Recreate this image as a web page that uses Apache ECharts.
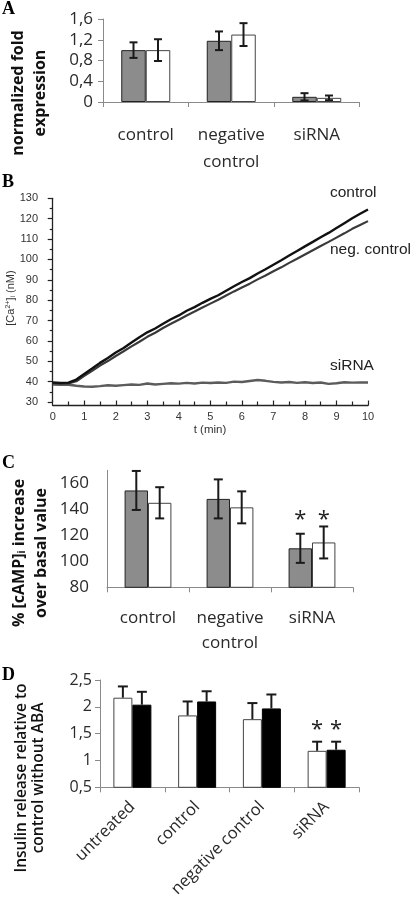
<!DOCTYPE html>
<html><head><meta charset="utf-8">
<script src="https://cdn.jsdelivr.net/npm/echarts@6/dist/echarts.min.js"></script>
<style>html,body{margin:0;padding:0;background:#fff}#c{width:416px;height:902px}</style>
</head><body><div id="c"></div><script>
// ---------- Panel A ----------
const catsA = ['control', 'negative\ncontrol', 'siRNA'];
const aGray = [1.00, 1.18, 0.10];
const aGrayErr = [0.15, 0.18, 0.07];
const aWhite = [1.00, 1.30, 0.08];
const aWhiteErr = [0.21, 0.22, 0.045];
const yTicksA = [0, 0.4, 0.8, 1.2, 1.6];

// ---------- Panel B ----------
const timeB = [0,0.25,0.5,0.75,1,1.25,1.5,1.75,2,2.25,2.5,2.75,3,3.25,3.5,3.75,4,4.25,4.5,4.75,5,5.25,5.5,5.75,6,6.25,6.5,6.75,7,7.25,7.5,7.75,8,8.25,8.5,8.75,9,9.25,9.5,9.75,10];
const ctrlB = [39.6,39.4,39.5,41.0,43.8,46.4,49.2,51.6,54.3,56.5,59.2,61.8,64.2,66.1,68.4,70.6,72.5,74.8,76.6,78.7,80.6,82.4,84.6,86.8,88.9,90.8,93.1,95.2,97.4,99.6,101.9,104.1,106.4,108.6,110.9,113.0,115.4,117.8,120.2,122.4,124.5];
const negB = [39.2,39.0,39.1,40.2,42.8,45.3,47.9,50.1,52.6,54.9,57.3,59.6,62.0,64.0,66.3,68.4,70.4,72.5,74.4,76.4,78.3,80.2,82.3,84.3,86.2,88.1,90.2,92.1,94.2,96.1,98.3,100.3,102.4,104.5,106.6,108.6,110.7,112.8,115.0,116.9,118.8];
const sirnaB = [38.6,38.4,38.5,38.0,37.6,37.5,37.8,38.2,38.0,38.3,38.6,38.4,39.1,38.6,38.9,39.2,39.0,39.4,39.1,39.5,39.3,39.6,39.4,40.0,39.8,40.3,40.8,40.4,39.9,39.6,39.8,39.4,39.7,39.3,39.6,38.9,39.2,39.7,39.5,39.6,39.6];
const xTicksB = [0,1,2,3,4,5,6,7,8,9,10];
const yTicksB = [30,40,50,60,70,80,90,100,110,120,130];
const lineNamesB = ['control', 'neg. control', 'siRNA'];

// ---------- Panel C ----------
const catsC = ['control', 'negative\ncontrol', 'siRNA'];
const cGray = [154.5, 148, 110];
const cGrayErr = [15, 15, 11.2];
const cWhite = [145, 141.5, 114.5];
const cWhiteErr = [12, 12.3, 12.3];
const cStar = [null, null, 135.6];
const yTicksC = [80, 100, 120, 140, 160];
const yMaxC = 170;

// ---------- Panel D ----------
const catsD = ['untreated', 'control', 'negative control', 'siRNA'];
const dWhite = [2.17, 1.84, 1.77, 1.18];
const dWhiteErr = [0.21, 0.26, 0.30, 0.17];
const dBlack = [2.04, 2.10, 1.97, 1.20];
const dBlackErr = [0.24, 0.19, 0.26, 0.15];
const dStar = [null, null, null, 1.66];
const yTicksD = [0.5, 1, 1.5, 2, 2.5];

const FONT = '"Open Sans", "Noto Sans", sans-serif';
const ARIAL = '"Liberation Sans", Arial, sans-serif';
const comma = v => String(+(+v).toFixed(2)).replace('.', ',');

function errSeries(xi, side, barW, capW, vals, errs, oneSided, stars) {
  return {
    type: 'custom', xAxisIndex: xi, yAxisIndex: xi, z: 5, silent: true,
    encode: { x: 0, y: 1 },
    data: vals.map((v, i) => [i, v, errs[i], stars && stars[i] != null ? stars[i] : -999]),
    renderItem(params, api) {
      const i = api.value(0), v = api.value(1), e = api.value(2), s = api.value(3);
      const c = api.coord([i, v]);
      const x = c[0] + side * barW / 2;
      const top = api.coord([i, v + e])[1];
      const bot = oneSided ? c[1] : api.coord([i, v - e])[1];
      const st = { stroke: '#1a1a1a', lineWidth: 2 };
      const ch = [
        { type: 'line', shape: { x1: x, y1: top, x2: x, y2: bot }, style: st },
        { type: 'line', shape: { x1: x - capW, y1: top, x2: x + capW, y2: top }, style: st }
      ];
      if (!oneSided) ch.push({ type: 'line', shape: { x1: x - capW, y1: bot, x2: x + capW, y2: bot }, style: st });
      if (s > -900) {
        const p = api.coord([i, s]);
        ch.push({ type: 'text', style: { text: '*', x: x, y: p[1] + 5, align: 'center', verticalAlign: 'middle', textAlign: 'center', textVerticalAlign: 'middle', fontSize: 22, fontFamily: FONT, fill: '#222' } });
      }
      return { type: 'group', children: ch };
    }
  };
}

function catAxis(gi, cats, fs, lh, margin, rotate) {
  return {
    type: 'category', gridIndex: gi, data: cats,
    axisLine: { show: true, lineStyle: { color: '#8a8a8a', width: 1 } },
    axisTick: { show: true, length: 5, lineStyle: { color: '#8a8a8a' } },
    axisLabel: { fontSize: fs, lineHeight: lh, margin: margin, color: '#2a2a2a', fontFamily: FONT, rotate: rotate || 0, interval: 0 },
    splitLine: { show: false }
  };
}
function valAxis(gi, ticks, max, fs, margin, showTick) {
  return {
    type: 'value', gridIndex: gi, min: ticks[0], max: max, interval: ticks[1] - ticks[0],
    axisLine: { show: true, lineStyle: { color: '#8a8a8a', width: 1 } },
    axisTick: { show: showTick, length: 5, lineStyle: { color: '#8a8a8a' } },
    axisLabel: { fontSize: fs, margin: margin, color: '#2a2a2a', fontFamily: FONT, formatter: comma, showMaxLabel: max === ticks[ticks.length - 1] },
    splitLine: { show: false }
  };
}

const pair = (a, b) => a.map((t, i) => [t, b[i]]);

const option = {
  backgroundColor: '#fff',
  animation: false,
  grid: [
    { left: 103, top: 19, width: 256.5, height: 83 },
    { left: 52.7, top: 198.3, width: 315.3, height: 203.7 },
    { left: 107, top: 470.3, width: 246, height: 117 },
    { left: 100, top: 680, width: 259, height: 107.3 }
  ],
  xAxis: [
    catAxis(0, catsA, 17, 27, 19.5),
    {
      type: 'value', gridIndex: 1, min: xTicksB[0], max: xTicksB[xTicksB.length - 1], interval: xTicksB[1] - xTicksB[0], offset: 3.5,
      axisLine: { show: true, lineStyle: { color: '#222', width: 1.3 } },
      axisTick: { show: true, inside: true, length: 5, lineStyle: { color: '#222', width: 1.2 } },
      minorTick: { show: true, splitNumber: 2, length: 4, lineStyle: { color: '#222', width: 1.2 } },
      axisLabel: { fontSize: 11, margin: 6, color: '#333', fontFamily: ARIAL },
      splitLine: { show: false }, minorSplitLine: { show: false }
    },
    catAxis(2, catsC, 17, 25, 18),
    catAxis(3, catsD, 16.5, 20, 17, 45)
  ],
  yAxis: [
    valAxis(0, yTicksA, yTicksA[yTicksA.length - 1], 17, 10, true),
    {
      type: 'value', gridIndex: 1, min: yTicksB[0], max: yTicksB[yTicksB.length - 1], interval: yTicksB[1] - yTicksB[0], offset: 4.7,
      axisLine: { show: true, lineStyle: { color: '#222', width: 1.3 } },
      axisTick: { show: true, length: 5, lineStyle: { color: '#222', width: 1.2 } },
      minorTick: { show: true, splitNumber: 2, length: 3, lineStyle: { color: '#222', width: 1.2 } },
      axisLabel: { fontSize: 11, margin: 10, color: '#333', fontFamily: ARIAL },
      splitLine: { show: false }, minorSplitLine: { show: false }
    },
    valAxis(2, yTicksC, yMaxC, 17, 18, false),
    valAxis(3, yTicksD, yTicksD[yTicksD.length - 1], 16, 8, true)
  ],
  series: [
    // A
    { type: 'bar', xAxisIndex: 0, yAxisIndex: 0, data: aGray, barWidth: 24.5, barGap: '0%', itemStyle: { color: '#8c8c8c', borderColor: '#222', borderWidth: 1 } },
    { type: 'bar', xAxisIndex: 0, yAxisIndex: 0, data: aWhite, barWidth: 24.5, barGap: '0%', itemStyle: { color: '#fff', borderColor: '#444', borderWidth: 1 } },
    errSeries(0, -1, 24.5, 4, aGray, aGrayErr, false),
    errSeries(0, 1, 24.5, 4, aWhite, aWhiteErr, false),
    // B
    { type: 'line', xAxisIndex: 1, yAxisIndex: 1, name: lineNamesB[2], data: pair(timeB, sirnaB), showSymbol: false, lineStyle: { color: '#5c5c5c', width: 2.4 } },
    { type: 'line', xAxisIndex: 1, yAxisIndex: 1, name: lineNamesB[1], data: pair(timeB, negB), showSymbol: false, lineStyle: { color: '#3a3a3a', width: 2.2 } },
    { type: 'line', xAxisIndex: 1, yAxisIndex: 1, name: lineNamesB[0], data: pair(timeB, ctrlB), showSymbol: false, lineStyle: { color: '#111', width: 2.4 } },
    // C
    { type: 'bar', xAxisIndex: 2, yAxisIndex: 2, data: cGray, barWidth: 23.4, barGap: '0%', itemStyle: { color: '#8c8c8c', borderColor: '#222', borderWidth: 1 } },
    { type: 'bar', xAxisIndex: 2, yAxisIndex: 2, data: cWhite, barWidth: 23.4, barGap: '0%', itemStyle: { color: '#fff', borderColor: '#444', borderWidth: 1 } },
    errSeries(2, -1, 23.4, 4.5, cGray, cGrayErr, false, cStar),
    errSeries(2, 1, 23.4, 4.5, cWhite, cWhiteErr, false, cStar),
    // D
    { type: 'bar', xAxisIndex: 3, yAxisIndex: 3, data: dWhite, barWidth: 19, barGap: '0%', itemStyle: { color: '#fff', borderColor: '#444', borderWidth: 1 } },
    { type: 'bar', xAxisIndex: 3, yAxisIndex: 3, data: dBlack, barWidth: 19, barGap: '0%', itemStyle: { color: '#000', borderColor: '#000', borderWidth: 1 } },
    errSeries(3, -1, 19, 5, dWhite, dWhiteErr, true, dStar),
    errSeries(3, 1, 19, 5, dBlack, dBlackErr, true, dStar)
  ],
  graphic: [
    // panel letters
    { type: 'text', x: 2, y: 9, style: { text: 'A', fontSize: 18, fontWeight: 'bold', fontFamily: '"Liberation Serif", serif', fill: '#000', verticalAlign: 'middle', textVerticalAlign: 'middle' } },
    { type: 'text', x: 2, y: 182.5, style: { text: 'B', fontSize: 18, fontWeight: 'bold', fontFamily: '"Liberation Serif", serif', fill: '#000', verticalAlign: 'middle', textVerticalAlign: 'middle' } },
    { type: 'text', x: 2, y: 463, style: { text: 'C', fontSize: 18, fontWeight: 'bold', fontFamily: '"Liberation Serif", serif', fill: '#000', verticalAlign: 'middle', textVerticalAlign: 'middle' } },
    { type: 'text', x: 2, y: 675, style: { text: 'D', fontSize: 18, fontWeight: 'bold', fontFamily: '"Liberation Serif", serif', fill: '#000', verticalAlign: 'middle', textVerticalAlign: 'middle' } },
    // A y title
    { type: 'text', x: 29, y: 93, rotation: Math.PI / 2, style: { text: 'normalized fold\nexpression', fontSize: 16, lineHeight: 22, fontWeight: 'bold', fontFamily: FONT, fill: '#111', align: 'center', verticalAlign: 'middle', textAlign: 'center', textVerticalAlign: 'middle' } },
    // B y title
    { type: 'text', x: 11, y: 298, rotation: Math.PI / 2, style: { text: '[Ca{sup|2+}]{sub|i} (nM)', fontSize: 11, fontFamily: ARIAL, fill: '#333', align: 'center', verticalAlign: 'middle', textAlign: 'center', textVerticalAlign: 'middle',
      rich: { sup: { fontSize: 7, fontFamily: ARIAL, fill: '#333', verticalAlign: 'top', padding: [0, 0, 5, 0] }, sub: { fontSize: 7, fontFamily: ARIAL, fill: '#333', padding: [5, 0, 0, 0] } } } },
    // B x title
    { type: 'text', x: 210, y: 430, style: { text: 't (min)', fontSize: 11.5, fontFamily: ARIAL, fill: '#333', align: 'center', verticalAlign: 'middle', textAlign: 'center', textVerticalAlign: 'middle' } },
    // B line labels
    { type: 'text', x: 330, y: 192.7, style: { text: lineNamesB[0], fontSize: 15.5, fontFamily: ARIAL, fill: '#222', verticalAlign: 'middle', textVerticalAlign: 'middle' } },
    { type: 'text', x: 330, y: 250, style: { text: lineNamesB[1], fontSize: 15.5, fontFamily: ARIAL, fill: '#222', verticalAlign: 'middle', textVerticalAlign: 'middle' } },
    { type: 'text', x: 330, y: 366, style: { text: lineNamesB[2], fontSize: 15.5, fontFamily: ARIAL, fill: '#222', verticalAlign: 'middle', textVerticalAlign: 'middle' } },
    // C y title
    { type: 'text', x: 30, y: 553, rotation: Math.PI / 2, style: { text: '% [cAMP]{sub|i} increase\nover basal value', fontSize: 16, lineHeight: 22, fontWeight: 'bold', fontFamily: FONT, fill: '#111', align: 'center', verticalAlign: 'middle', textAlign: 'center', textVerticalAlign: 'middle',
      rich: { sub: { fontSize: 10, fontWeight: 'bold', fontFamily: FONT, fill: '#111', padding: [6, 0, 0, 0] } } } },
    // D y title
    { type: 'text', x: 30, y: 778, rotation: Math.PI / 2, style: { text: 'Insulin release relative to\ncontrol without ABA', fontSize: 15.5, lineHeight: 17, fontWeight: 600, fontFamily: FONT, fill: '#111', align: 'center', verticalAlign: 'middle', textAlign: 'center', textVerticalAlign: 'middle' } }
  ]
};
const chart = echarts.init(document.getElementById('c'), null, { renderer: 'canvas' });
chart.setOption(option);
</script></body></html>
